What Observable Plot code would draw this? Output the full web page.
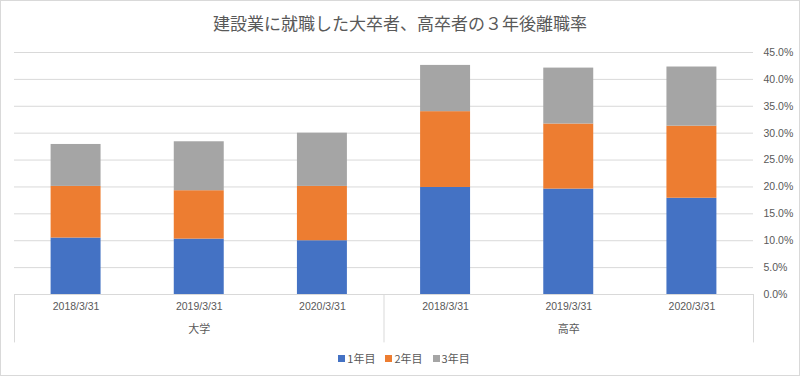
<!DOCTYPE html>
<html><head><meta charset="utf-8">
<script src="https://cdn.jsdelivr.net/npm/d3@7"></script>
<script src="https://cdn.jsdelivr.net/npm/@observablehq/plot@0.6"></script>
<style>
body{margin:0;background:#fff;}
#wrap{position:relative;width:800px;height:376px;overflow:hidden;background:#fff;}
#border{position:absolute;left:0;top:0;width:800px;height:376px;border:1px solid #d9d9d9;box-sizing:border-box;pointer-events:none;}
#title{position:absolute;left:0;top:10px;width:800px;text-align:center;font-family:"Noto Sans CJK JP",sans-serif;font-size:17px;color:#595959;line-height:26px;}
#chart{position:absolute;left:0;top:40px;}
#legend{position:absolute;left:4px;top:348px;width:800px;}
#legend .lg-swatches{justify-content:center;min-height:20px;margin:0;font-family:"Noto Sans CJK JP",sans-serif;font-size:11px;color:#595959;}
#legend .lg-swatch{margin-right:10px;}
#legend .lg-swatch:last-child{margin-right:0;}
#legend .lg-swatch > svg{margin-right:2px;}
</style></head>
<body>
<div id="wrap">
  <div id="title">建設業に就職した大卒者、高卒者の３年後離職率</div>
  <div id="chart"></div>
  <div id="legend"></div>
  <div id="border"></div>
</div>
<script>
const groups = ["大学", "高卒"];
const dates = ["2018/3/31", "2019/3/31", "2020/3/31"];
const series = ["1年目", "2年目", "3年目"];
const year1 = [10.5, 10.3, 10.0, 19.9, 19.6, 17.9];
const year2 = [9.6, 9.0, 10.1, 14.1, 12.1, 13.4];
const year3 = [7.8, 9.1, 9.9, 8.6, 10.4, 11.0];
const colors = ["#4472C4", "#ED7D31", "#A5A5A5"];
const yTicks = [0, 5, 10, 15, 20, 25, 30, 35, 40, 45];

const seriesValues = [year1, year2, year3];
const rows = [];
for (let i = 0; i < year1.length; i++) {
  series.forEach((s, k) => rows.push({i, group: groups[Math.floor(i / 3)], date: dates[i % 3], series: s, value: seriesValues[k][i]}));
}
const nCat = groups.length * dates.length;
const dateTicks = d3.range(nCat).map(i => i + 0.5);
const groupTicks = groups.map((g, j) => j * dates.length + dates.length / 2);
const separators = d3.range(groups.length + 1).map(j => j * dates.length);

const chart = Plot.plot({
  width: 800,
  height: 306,
  marginTop: 12,
  marginBottom: 52,
  marginLeft: 14,
  marginRight: 47,
  style: {fontFamily: "'Liberation Sans', sans-serif", fontSize: "11px", color: "#595959", background: "transparent"},
  x: {type: "linear", domain: [0, nCat], axis: null, label: null},
  y: {domain: [0, 45], axis: null, label: null},
  color: {domain: series, range: colors},
  marks: [
    Plot.ruleY(yTicks, {stroke: "#d9d9d9", strokeWidth: 1}),
    Plot.rectY(rows, {x1: "i", x2: d => d.i + 1, y: "value", fill: "series", insetLeft: 36.6, insetRight: 36.6}),
    Plot.ruleX(separators, {y1: 0, y2: -9, stroke: "#d9d9d9", strokeWidth: 1}),
    Plot.axisY(yTicks, {anchor: "right", label: null, tickSize: 0, tickPadding: 10, tickFormat: d => d.toFixed(1) + "%", fontSize: 10.5, fill: "#595959"}),
    Plot.axisX(dateTicks, {anchor: "bottom", label: null, tickSize: 0, tickPadding: 8, tickFormat: t => dates[Math.floor(t) % dates.length], fontSize: 10.5, fill: "#595959"}),
    Plot.axisX(groupTicks, {anchor: "bottom", label: null, tickSize: 0, tickPadding: 31, tickFormat: t => groups[Math.floor(t / dates.length)], fontSize: 11, fontFamily: "'Noto Sans CJK JP', sans-serif", fill: "#595959"})
  ]
});
document.getElementById("chart").appendChild(chart);

const legend = Plot.legend({color: {domain: series, range: colors}, legend: "swatches", swatchSize: 7, className: "lg"});
document.getElementById("legend").appendChild(legend);
</script>
</body></html>
